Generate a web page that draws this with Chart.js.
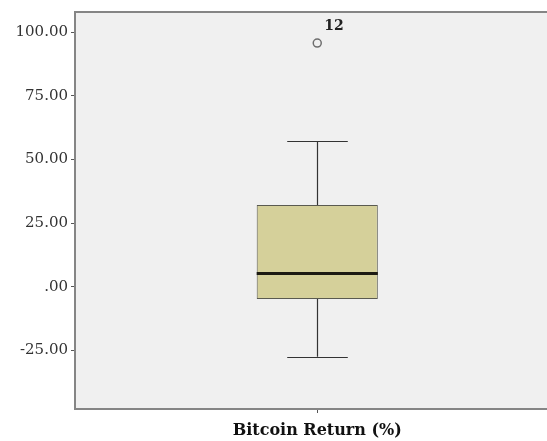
<!DOCTYPE html>
<html>
<head>
<meta charset="utf-8">
<script src="https://cdn.jsdelivr.net/npm/chart.js@4/dist/chart.umd.min.js"></script>
<style>
  html, body { margin:0; padding:0; overflow:hidden; background:#fff; }
  #wrap { width:565px; height:441px; position:relative; }
</style>
</head>
<body>
<div id="wrap"><canvas id="c"></canvas></div>
<script>
// SPSS-style boxplot of Bitcoin returns
const categories = ["Bitcoin Return (%)"];
const q1 = [-4.8];
const q3 = [32.2];
const median = [5.2];
const whiskerLow = [-27.5];
const whiskerHigh = [57.2];
const outlierValues = [95.8];
const outlierCases = ["12"];
const yTicks = [-25, 0, 25, 50, 75, 100];

const SERIF = "'DejaVu Serif','Liberation Serif',serif";

// plot background, whiskers, median, case labels, frame
const boxPlugin = {
  id: "spssBox",
  beforeDraw(chart) {
    const {ctx, chartArea:a} = chart;
    ctx.save();
    ctx.fillStyle = "#f0f0f0";
    ctx.fillRect(a.left, a.top, a.right - a.left, a.bottom - a.top);
    ctx.restore();
  },
  beforeDatasetsDraw(chart) {
    const {ctx, scales:{x, y}} = chart;
    const bar = chart.getDatasetMeta(0).data;
    ctx.save();
    ctx.strokeStyle = "#333";
    ctx.lineWidth = 1.2;
    categories.forEach((c, i) => {
      const cx = Math.round(x.getPixelForValue(i)) + 0.5;
      const half = bar[i].width / 4;
      const lo = y.getPixelForValue(whiskerLow[i]), hi = y.getPixelForValue(whiskerHigh[i]);
      ctx.beginPath();
      ctx.moveTo(cx, hi); ctx.lineTo(cx, lo);
      ctx.moveTo(cx - half, Math.round(lo) + 0.5); ctx.lineTo(cx + half, Math.round(lo) + 0.5);
      ctx.moveTo(cx - half, Math.round(hi) + 0.5); ctx.lineTo(cx + half, Math.round(hi) + 0.5);
      ctx.stroke();
    });
    ctx.restore();
  },
  afterDatasetsDraw(chart) {
    const {ctx, chartArea:a, scales:{x, y}} = chart;
    const bar = chart.getDatasetMeta(0).data;
    ctx.save();
    ctx.strokeStyle = "#1c1a12";
    ctx.lineWidth = 3;
    categories.forEach((c, i) => {
      const b = bar[i], m = y.getPixelForValue(median[i]);
      ctx.beginPath();
      ctx.moveTo(b.x - b.width / 2, m); ctx.lineTo(b.x + b.width / 2, m);
      ctx.stroke();
    });
    // case number next to outlier
    ctx.fillStyle = "#222";
    ctx.font = "bold 14px " + SERIF;
    ctx.textAlign = "left";
    ctx.textBaseline = "middle";
    outlierValues.forEach((v, i) => {
      const px = x.getPixelForValue(0), py = y.getPixelForValue(v);
      ctx.fillText(outlierCases[i], px + 7, py - 17);
    });
    // frame
    ctx.strokeStyle = "#858585";
    ctx.lineWidth = 2;
    ctx.strokeRect(a.left, a.top, a.right - a.left, a.bottom - a.top);
    ctx.restore();
  }
};

new Chart(document.getElementById("c"), {
  data: {
    labels: categories,
    datasets: [
      {type:"bar", label:"box", data: categories.map((c, i) => [q1[i], q3[i]]),
       backgroundColor:"#d5d09a", borderColor:"#5a5a50", borderWidth:1, borderSkipped:false,
       barPercentage:0.25, categoryPercentage:1, order:2},
      {type:"line", label:"outliers", data: outlierValues, showLine:false,
       pointRadius:4, pointStyle:"circle", pointBorderWidth:1.5,
       pointBorderColor:"#6e6e6e", pointBackgroundColor:"rgba(0,0,0,0)", order:1},
    ]
  },
  options: {
    responsive:true, maintainAspectRatio:false, animation:false,
    layout:{padding:{top:9, right:0, left:0, bottom:0}},
    plugins:{legend:{display:false}, tooltip:{enabled:false}},
    scales:{
      x:{
        grid:{drawOnChartArea:false, offset:false, tickLength:4, color:"#555"},
        border:{display:false},
        ticks:{color:"#111", padding:8, font:{family:SERIF, size:16, weight:"bold"}},
        afterFit(s){ s.height = 32; }
      },
      y:{
        min:-48, max:108,
        afterBuildTicks(s){ s.ticks = yTicks.map(v => ({value:v})); },
        grid:{drawOnChartArea:false, tickLength:4, color:"#555"},
        border:{display:false},
        ticks:{color:"#333", padding:3, font:{family:SERIF, size:15},
               callback:v => (v === 0 ? ".00" : v.toFixed(2))},
        afterFit(s){ s.width = 75; }
      }
    }
  },
  plugins:[boxPlugin]
});
</script>
</body>
</html>
